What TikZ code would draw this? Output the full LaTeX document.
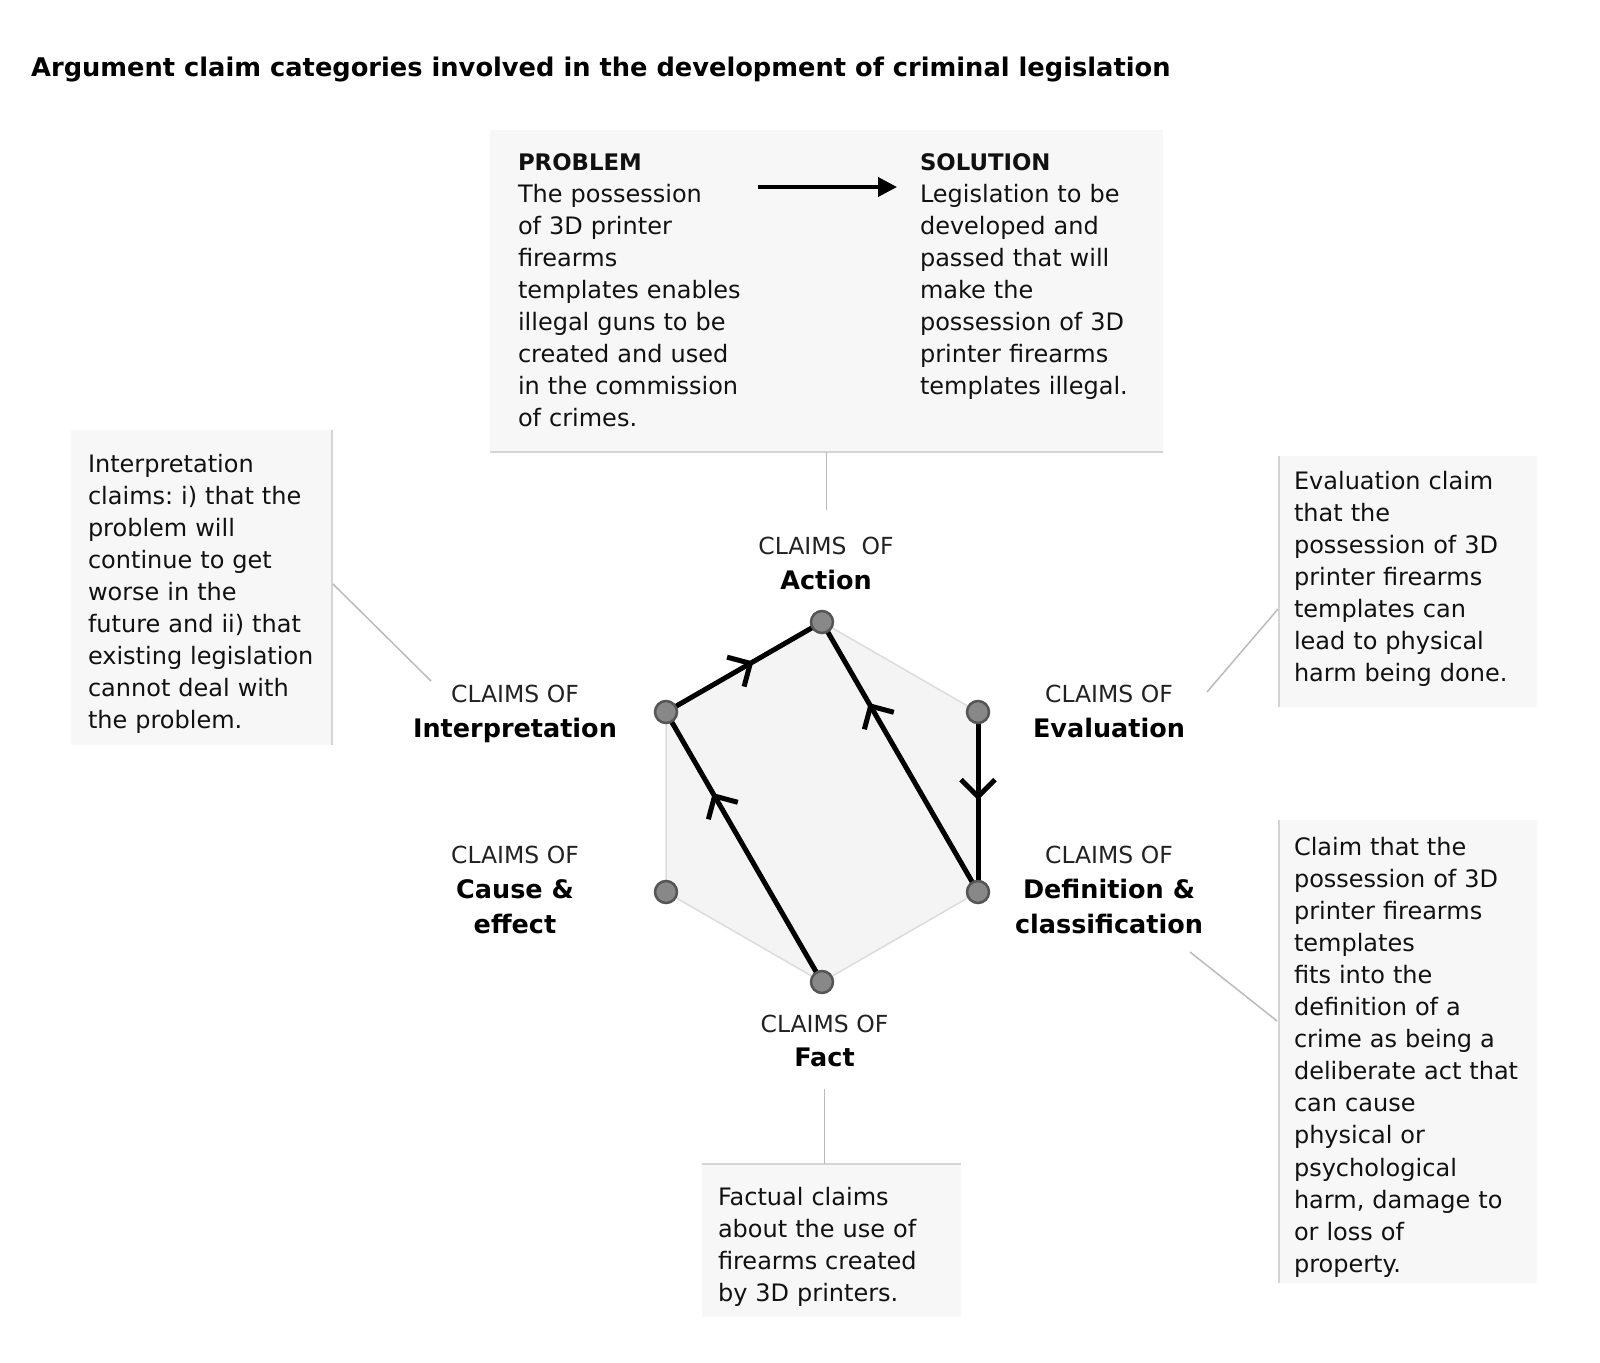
\documentclass[tikz,border=0pt]{standalone}
\usepackage{fontspec}
\setmainfont{DejaVu Sans}
\usetikzlibrary{arrows.meta,decorations.markings}
\definecolor{boxfill}{HTML}{F7F7F7}
\definecolor{boxedge}{HTML}{D4D4D4}
\definecolor{hexfill}{HTML}{F4F4F4}
\definecolor{hexedge}{HTML}{DCDCDC}
\definecolor{dotfill}{HTML}{888888}
\definecolor{dotedge}{HTML}{555555}
\definecolor{leadcol}{HTML}{BBBBBB}
\definecolor{ink}{HTML}{111111}
\definecolor{labink}{HTML}{222222}
\frenchspacing
\begin{document}
\begin{tikzpicture}[x=1pt,y=-1pt,
  panel/.style={fill=boxfill, draw=none, inner sep=0pt, outer sep=0pt, anchor=north west},
  panelline/.style={draw=boxedge, line width=2pt},
  boxtext/.style={anchor=north west, inner sep=0pt, outer sep=0pt, align=left, text width=250pt, text=ink, font=\fontsize{24}{32.1}\selectfont},
  claimsof/.style={anchor=base, inner sep=0pt, text=labink, font=\fontsize{23.5}{28}\selectfont},
  claimname/.style={anchor=base, inner sep=0pt, text=black, font=\fontsize{25.5}{30}\selectfont\bfseries},
  leadline/.style={draw=leadcol, line width=1.5pt},
  vdot/.style={circle, fill=dotfill, draw=dotedge, line width=2.5pt, minimum size=22pt, inner sep=0pt},
  flow/.style={draw=black, line width=5pt},
  midarrow/.style={postaction={decorate}, decoration={markings, mark=at position #1 with {\arrow{Straight Barb[length=17pt,width=34pt]}}}}
]
\useasboundingbox (0,0) rectangle (1600,1362);
\fill[white] (0,0) rectangle (1600,1362);

% title
\node[anchor=base west, inner sep=0pt, font=\fontsize{25.7}{30}\selectfont\bfseries] (title) at (31,77)
  {Argument claim categories involved in the development of criminal legislation};

% top box
\node[panel, minimum width=673pt, minimum height=322pt] (topBox) at (490,130) {};
\draw[panelline] (topBox.south west) -- (topBox.south east);
\node[boxtext] (problem) at (518,150) {\rule{0pt}{20pt}{\fontsize{22.8}{32.1}\selectfont\bfseries PROBLEM}\\
The possession\\of 3D printer\\firearms\\templates enables\\illegal guns to be\\created and used\\in the commission\\of crimes.};
\node[boxtext] (solution) at (920,150) {\rule{0pt}{20pt}{\fontsize{22.8}{32.1}\selectfont\bfseries SOLUTION}\\
Legislation to be\\developed and\\passed that will\\make the\\possession of 3D\\printer firearms\\templates illegal.};
\coordinate (arrS) at (758,187);
\coordinate (arrE) at (897,187);
\draw[line width=3.8pt, -{Triangle[length=19pt,width=19pt]}] (arrS) -- (arrE);

% interpretation box
\node[panel, minimum width=261pt, minimum height=315pt] (interpBox) at (71,430) {};
\draw[panelline] (interpBox.north east) -- (interpBox.south east);
\node[boxtext] (interpText) at (88,452) {\rule{0pt}{20pt}Interpretation\\claims: i) that the\\problem will\\continue to get\\worse in the\\future and ii) that\\existing legislation\\cannot deal with\\the problem.};

% evaluation box
\node[panel, minimum width=258pt, minimum height=251pt] (evalBox) at (1279,456) {};
\draw[panelline] (evalBox.north west) -- (evalBox.south west);
\node[boxtext] (evalText) at (1294,469) {\rule{0pt}{20pt}Evaluation claim\\that the\\possession of 3D\\printer firearms\\templates can\\lead to physical\\harm being done.};

% definition box
\node[panel, minimum width=258pt, minimum height=463pt] (defBox) at (1279,820) {};
\draw[panelline] (defBox.north west) -- (defBox.south west);
\node[boxtext] (defText) at (1294,835) {\rule{0pt}{20pt}Claim that the\\possession of 3D\\printer firearms\\templates\\fits into the\\definition of a\\crime as being a\\deliberate act that\\can cause\\physical or\\psychological\\harm, damage to\\or loss of\\property.};

% fact box
\node[panel, minimum width=259pt, minimum height=153pt] (factBox) at (702,1164) {};
\draw[panelline] (factBox.north west) -- (factBox.north east);
\node[boxtext] (factText) at (718,1185) {\rule{0pt}{20pt}Factual claims\\about the use of\\firearms created\\by 3D printers.};

% hexagon
\coordinate (pA) at (822,622);
\coordinate (pUR) at (978,712);
\coordinate (pLR) at (978,892);
\coordinate (pB) at (822,982);
\coordinate (pLL) at (666,892);
\coordinate (pUL) at (666,712);
\filldraw[fill=hexfill, draw=hexedge, line width=1.5pt] (pA) -- (pUR) -- (pLR) -- (pB) -- (pLL) -- (pUL) -- cycle;

% flow lines
\draw[flow, midarrow=0.56] (pUL) -- (pA);
\draw[flow, midarrow=0.70] (pB) -- (pUL);
\draw[flow, midarrow=0.70] (pLR) -- (pA);
\draw[flow, midarrow=0.49] (pUR) -- (pLR);

% vertices
\node[vdot] (vA) at (pA) {};
\node[vdot] (vUR) at (pUR) {};
\node[vdot] (vLR) at (pLR) {};
\node[vdot] (vB) at (pB) {};
\node[vdot] (vLL) at (pLL) {};
\node[vdot] (vUL) at (pUL) {};

% labels
\node[claimsof] (act1) at (826,554.5) {CLAIMS~~OF};
\node[claimname] (act2) at (826,589) {Action};
\node[claimsof] (int1) at (515,702.5) {CLAIMS OF};
\node[claimname] (int2) at (515,737) {Interpretation};
\node[claimsof] (eva1) at (1109,702.5) {CLAIMS OF};
\node[claimname] (eva2) at (1109,737) {Evaluation};
\node[claimsof] (cau1) at (515,863.5) {CLAIMS OF};
\node[claimname] (cau2) at (515,898.5) {Cause \&};
\node[claimname] (cau3) at (515,933.5) {effect};
\node[claimsof] (def1) at (1109,863.5) {CLAIMS OF};
\node[claimname] (def2) at (1109,898.5) {Definition \&};
\node[claimname] (def3) at (1109,933.5) {classification};
\node[claimsof] (fac1) at (824.5,1032) {CLAIMS OF};
\node[claimname] (fac2) at (824.5,1066) {Fact};

% leader lines
\coordinate (actEnd) at (826.5,510);
\draw[leadline] (topBox.south) -- (actEnd);
\coordinate (intStart) at (333,584);
\coordinate (intEnd) at (431,681);
\draw[leadline] (intStart) -- (intEnd);
\coordinate (evaStart) at (1278,609);
\coordinate (evaEnd) at (1207,692);
\draw[leadline] (evaStart) -- (evaEnd);
\coordinate (defStart) at (1277,1021);
\coordinate (defEnd) at (1190,952);
\draw[leadline] (defStart) -- (defEnd);
\coordinate (facEnd) at (824.5,1089);
\coordinate (facStart) at (824.5,1164);
\draw[leadline] (facEnd) -- (facStart);
\end{tikzpicture}
\end{document}
